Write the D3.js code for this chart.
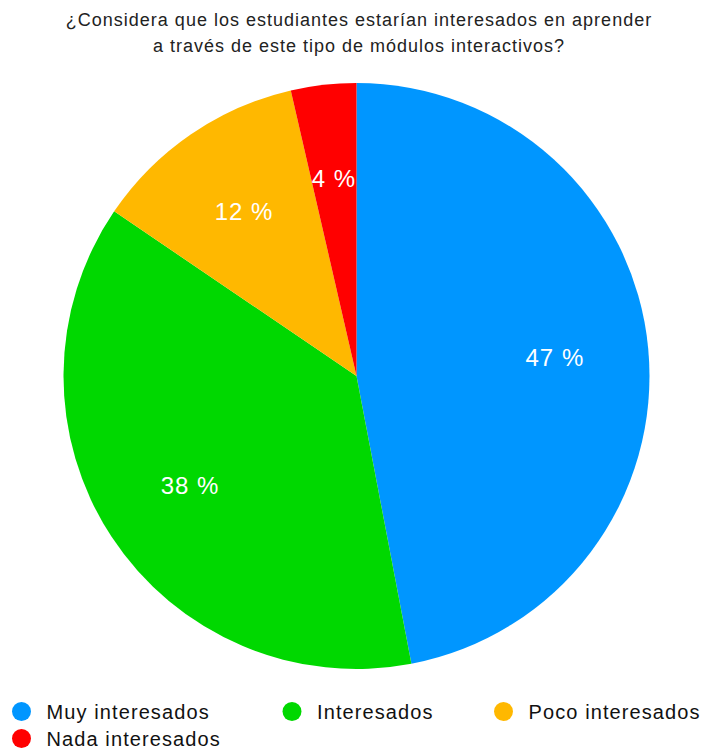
<!DOCTYPE html>
<html>
<head>
<meta charset="utf-8">
<script src="https://cdn.jsdelivr.net/npm/d3@7"></script>
<style>
  html, body { margin: 0; padding: 0; background: #fff; }
  svg { display: block; font-family: "Liberation Sans", Arial, Helvetica, sans-serif; }
</style>
</head>
<body>
<svg id="chart" width="705" height="751"></svg>
<script>
// Survey answers (share of respondents, %); slice labels show the rounded share
const categories = ["Muy interesados", "Interesados", "Poco interesados", "Nada interesados"];
const values = [47.0, 37.5, 11.9, 3.6];
const colors = ["#0096FF", "#00D800", "#FFB800", "#FF0000"];
const titleLines = [
  "¿Considera que los estudiantes estarían interesados en aprender",
  "a través de este tipo de módulos interactivos?"
];

const svg = d3.select("#chart");

// Title
svg.append("g")
  .selectAll("text")
  .data(titleLines)
  .join("text")
  .attr("x", 359)
  .attr("y", (d, i) => 26 + i * 26)
  .attr("text-anchor", "middle")
  .attr("font-size", 18)
  .attr("letter-spacing", 1)
  .attr("fill", "#222")
  .text(d => d);

// Pie
const cx = 356.5, cy = 376, radius = 293;
const data = categories.map((c, i) => ({ category: c, value: values[i], color: colors[i] }));

const pie = d3.pie().sort(null).value(d => d.value);
const arc = d3.arc().innerRadius(0).outerRadius(radius);
const labelArc = d3.arc().innerRadius(radius * 0.68).outerRadius(radius * 0.68);

const g = svg.append("g").attr("transform", `translate(${cx},${cy})`);
const arcs = pie(data);

g.selectAll("path")
  .data(arcs)
  .join("path")
  .attr("d", arc)
  .attr("fill", d => d.data.color);

g.selectAll("text")
  .data(arcs)
  .join("text")
  .attr("transform", d => `translate(${labelArc.centroid(d)})`)
  .attr("text-anchor", "middle")
  .attr("dy", "0.36em")
  .attr("font-size", 24)
  .attr("letter-spacing", 1)
  .attr("fill", "#fff")
  .text(d => `${Math.round(d.data.value)} %`);

// Legend
const legendPos = [
  { x: 21.5, y: 711.5 },
  { x: 292, y: 711.5 },
  { x: 503.5, y: 711.5 },
  { x: 21.5, y: 738.5 }
];
const legend = svg.append("g")
  .selectAll("g")
  .data(data)
  .join("g")
  .attr("transform", (d, i) => `translate(${legendPos[i].x},${legendPos[i].y})`);

legend.append("circle")
  .attr("r", 9.5)
  .attr("fill", d => d.color);

legend.append("text")
  .attr("x", 25)
  .attr("dy", "0.36em")
  .attr("font-size", 20)
  .attr("letter-spacing", 1.1)
  .attr("fill", "#111")
  .text(d => d.category);
</script>
</body>
</html>
